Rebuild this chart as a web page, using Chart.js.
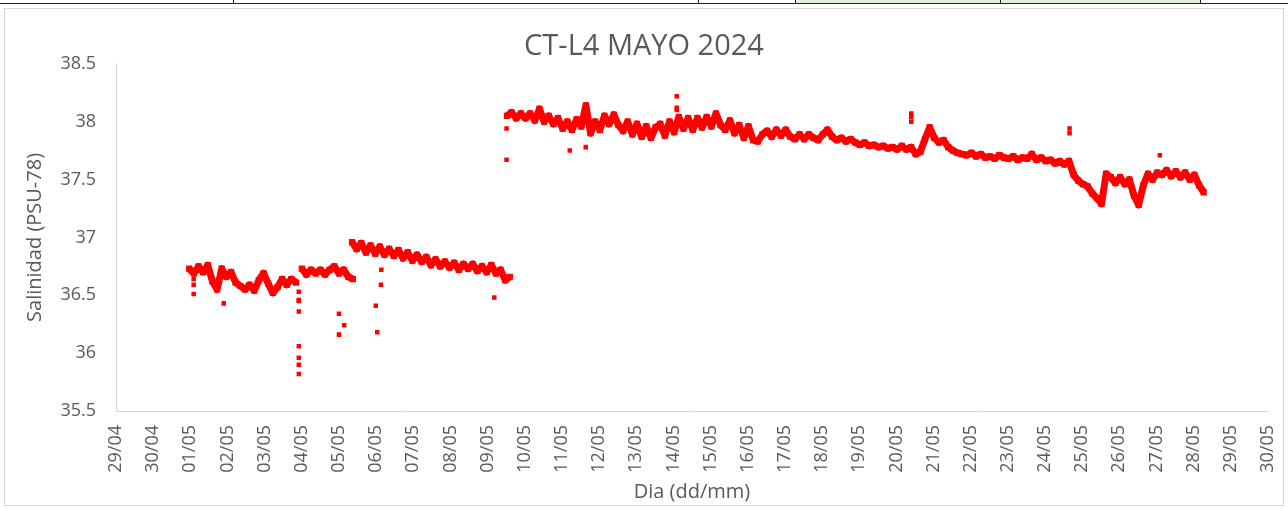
<!DOCTYPE html>
<html lang="es">
<head>
  <meta charset="UTF-8" />
  <title>CT-L4 MAYO 2024</title>
  <script src="https://cdn.jsdelivr.net/npm/chart.js"></script>
  <style>
    html, body { margin: 0; padding: 0; background: #fff; }
    body { width: 1288px; height: 509px; position: relative; overflow: hidden; }
    .sheet-row {
      position: absolute; left: 0; top: 0; width: 1288px; height: 3px;
      border-bottom: 1px solid #222;
    }
    .sheet-row .green { position: absolute; top: 0; height: 3px; left: 795px; width: 405px; background: #e2efda; }
    .sheet-row .cut { position: absolute; top: 0; width: 1px; height: 3px; background: #222; }
    .frame {
      position: absolute; left: 4px; top: 8px; width: 1278px; height: 496px;
      border: 1px solid #d9d9d9;
    }
    #salChart { position: absolute; left: 0; top: 0; }
  </style>
</head>
<body>
  <div class="sheet-row">
    <div class="green"></div>
    <div class="cut" style="left:233px"></div>
    <div class="cut" style="left:698px"></div>
    <div class="cut" style="left:795px"></div>
    <div class="cut" style="left:1000px"></div>
    <div class="cut" style="left:1200px"></div>
  </div>
  <div class="frame"></div>
  <canvas id="salChart" width="1288" height="509"></canvas>

  <script>
    // x values are day of May (0 = 30/04, -1 = 29/04), one sample every 3 h
    const axisFrom = -1;
    const axisTo = 30;
    const stepDays = 0.125;
    const yTicks = [35.5, 36, 36.5, 37, 37.5, 38, 38.5];

    const seg1Start = 0.97;
    const seg1 = [36.73, 36.69, 36.75, 36.70, 36.76, 36.62, 36.55, 36.73, 36.66, 36.70,
                  36.61, 36.58, 36.55, 36.59, 36.54, 36.63, 36.69, 36.60, 36.52, 36.57,
                  36.64, 36.59, 36.64, 36.61];

    const seg2Start = 4.0;
    const seg2 = [36.73, 36.68, 36.72, 36.69, 36.72, 36.68, 36.72, 36.75, 36.69, 36.72,
                  36.66, 36.64];

    const seg3Start = 5.35;
    const seg3 = [36.96, 36.90, 36.95, 36.87, 36.93, 36.86, 36.92, 36.85, 36.90, 36.84,
                  36.89, 36.82, 36.87, 36.80, 36.85, 36.79, 36.83, 36.76, 36.81, 36.75,
                  36.79, 36.74, 36.78, 36.72, 36.77, 36.73, 36.77, 36.71, 36.75, 36.70,
                  36.76, 36.69, 36.72, 36.63, 36.66];

    const seg4Start = 9.52;
    const seg4a = [38.05, 38.08, 38.03, 38.07, 38.03, 38.07, 38.01, 38.11, 38.00, 38.05,
                   37.98, 38.03, 37.94, 38.00, 37.93, 38.02, 37.96, 38.14, 37.90, 38.00,
                   37.93, 38.05, 37.98, 38.06, 37.97, 37.92, 38.00, 37.89, 37.98, 37.87,
                   37.96, 37.86, 37.95, 37.98, 37.88, 38.00, 37.91, 38.04, 37.94, 38.03,
                   37.93, 38.03, 37.95, 38.04, 37.96, 38.07, 37.97, 37.93, 38.01, 37.90];
    const seg4b = [37.97, 37.86, 37.96, 37.84, 37.83, 37.89, 37.92, 37.87, 37.93, 37.88,
                   37.93, 37.87, 37.85, 37.89, 37.85, 37.89, 37.86, 37.84, 37.89, 37.93,
                   37.87, 37.84, 37.86, 37.83, 37.85, 37.82, 37.80, 37.82, 37.79, 37.80,
                   37.78, 37.79, 37.77, 37.78, 37.76, 37.79, 37.76, 37.78, 37.72, 37.74,
                   37.85, 37.95, 37.86, 37.82, 37.84, 37.78, 37.75, 37.73, 37.72, 37.71];
    const seg4c = [37.73, 37.70, 37.72, 37.69, 37.70, 37.68, 37.71, 37.69, 37.68, 37.70,
                   37.67, 37.69, 37.68, 37.72, 37.67, 37.69, 37.66, 37.67, 37.64, 37.66,
                   37.63, 37.66, 37.54, 37.49, 37.46, 37.44, 37.38, 37.34, 37.29, 37.55,
                   37.52, 37.47, 37.52, 37.46, 37.50, 37.36, 37.28, 37.45, 37.55, 37.50,
                   37.56, 37.54, 37.58, 37.53, 37.57, 37.52, 37.56, 37.50, 37.54, 37.45,
                   37.39];

    // isolated readings off the main band
    const spikeDays = [1.09, 1.09, 1.09, 1.90, 3.92, 3.92, 3.92, 3.92, 3.92, 3.92, 3.92, 3.92,
                       5.00, 5.00, 5.14, 5.99, 6.03, 6.13, 6.14, 9.18, 9.51, 9.51, 11.21, 11.64,
                       14.09, 14.09, 14.09, 20.40, 20.40, 20.40, 24.66, 24.66, 27.09];
    const spikeValues = [36.64, 36.59, 36.51, 36.43, 36.53, 36.46, 36.45, 36.36, 36.06, 35.96, 35.90, 35.82,
                         36.34, 36.16, 36.24, 36.41, 36.18, 36.59, 36.72, 36.48, 37.67, 37.94, 37.75, 37.78,
                         38.22, 38.12, 38.10, 38.07, 38.04, 38.00, 37.94, 37.90, 37.71];

    const RED = '#ff0000';
    const GREY_TEXT = '#595959';
    const FONT = '"Open Sans", "Liberation Sans", sans-serif';

    function toPoints(start, values) {
      return values.map((v, i) => ({ x: start + i * stepDays, y: v }));
    }

    function bandDataset(points) {
      return {
        data: points,
        showLine: true,
        borderColor: RED,
        borderWidth: 7,
        borderJoinStyle: 'round',
        tension: 0,
        pointStyle: 'rect',
        pointRadius: 4.4,
        pointBackgroundColor: RED,
        pointBorderWidth: 0
      };
    }

    function dayLabel(v) {
      const d = Math.round(v);
      if (d <= 0) return (30 + d) + '/04';
      return String(d).padStart(2, '0') + '/05';
    }

    new Chart(document.getElementById('salChart').getContext('2d'), {
      type: 'scatter',
      data: {
        datasets: [
          bandDataset(toPoints(seg1Start, seg1)),
          bandDataset(toPoints(seg2Start, seg2)),
          bandDataset(toPoints(seg3Start, seg3)),
          bandDataset(toPoints(seg4Start, seg4a.concat(seg4b, seg4c))),
          {
            data: spikeDays.map((d, i) => ({ x: d, y: spikeValues[i] })),
            showLine: false,
            pointStyle: 'rect',
            pointRadius: 3.2,
            pointBackgroundColor: RED,
            pointBorderWidth: 0
          }
        ]
      },
      options: {
        responsive: false,
        animation: false,
        devicePixelRatio: 1,
        layout: { padding: { left: 20, right: 20, top: 8, bottom: 5 } },
        plugins: {
          legend: { display: false },
          tooltip: { enabled: false },
          title: {
            display: true,
            text: 'CT-L4 MAYO 2024',
            color: GREY_TEXT,
            font: { family: FONT, size: 29, weight: 'normal' },
            padding: { top: 21, bottom: 0 }
          }
        },
        scales: {
          x: {
            type: 'linear',
            min: axisFrom,
            max: axisTo,
            grid: { display: false, drawTicks: false },
            border: { display: true, color: '#d9d9d9', width: 1 },
            afterFit: s => { s.height = 93; s.paddingLeft = 0; s.paddingRight = 0; },
            ticks: {
              stepSize: 1,
              autoSkip: false,
              minRotation: 90,
              maxRotation: 90,
              padding: 14,
              color: GREY_TEXT,
              font: { family: FONT, size: 18 },
              callback: dayLabel
            },
            title: {
              display: true,
              text: 'Dia (dd/mm)',
              color: GREY_TEXT,
              font: { family: FONT, size: 20 },
              padding: { top: 0, bottom: 0 }
            }
          },
          y: {
            min: yTicks[0],
            max: yTicks[yTicks.length - 1],
            grid: { display: false, drawTicks: false },
            border: { display: true, color: '#d9d9d9', width: 1 },
            afterFit: s => { s.width = 96; },
            afterBuildTicks: s => { s.ticks = yTicks.map(v => ({ value: v })); },
            ticks: {
              padding: 20,
              color: GREY_TEXT,
              font: { family: FONT, size: 18 },
              callback: v => String(v)
            },
            title: {
              display: true,
              text: 'Salinidad (PSU-78)',
              color: GREY_TEXT,
              font: { family: FONT, size: 20 },
              padding: { top: 3, bottom: 0 }
            }
          }
        }
      }
    });
  </script>
</body>
</html>
